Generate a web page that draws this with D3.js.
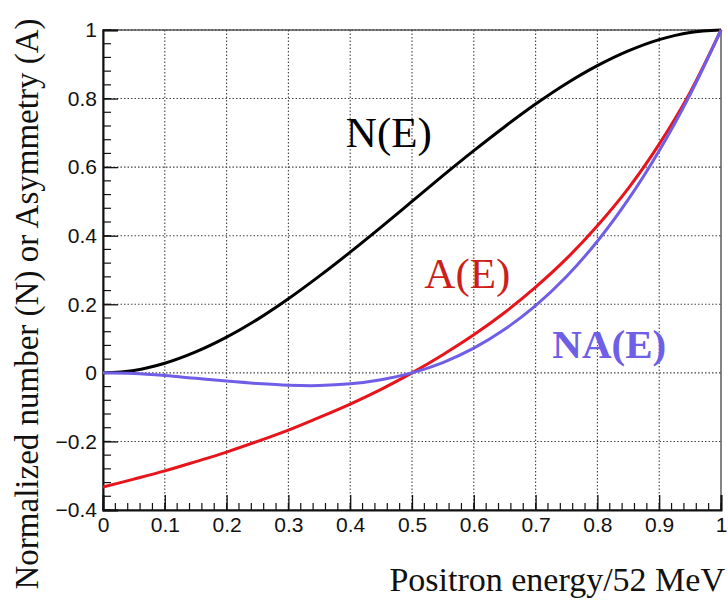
<!DOCTYPE html>
<html>
<head>
<meta charset="utf-8">
<script src="https://cdn.jsdelivr.net/npm/d3@7"></script>
<style>
  html, body { margin: 0; padding: 0; background: #fff; }
  svg { display: block; }
</style>
</head>
<body>
<svg id="chart" width="728" height="603"></svg>
<script>
// Reduced positron energy E (fraction of 52 MeV)
const energy = [0, 0.05, 0.1, 0.15, 0.2, 0.25, 0.3, 0.35, 0.4, 0.45, 0.5,
                0.55, 0.6, 0.65, 0.7, 0.75, 0.8, 0.85, 0.9, 0.95, 1];
// Normalized number N(E)
const numberN = [0, 0.007, 0.028, 0.061, 0.104, 0.156, 0.216, 0.282, 0.352, 0.425, 0.5,
                 0.575, 0.648, 0.718, 0.784, 0.844, 0.896, 0.939, 0.972, 0.993, 1];
// Asymmetry A(E)
const asymA = [-0.333, -0.310, -0.286, -0.259, -0.231, -0.2, -0.167, -0.130, -0.091, -0.048, 0,
               0.053, 0.111, 0.176, 0.25, 0.333, 0.429, 0.538, 0.667, 0.818, 1];
// Product N(E)·A(E)
const productNA = [0, -0.002, -0.008, -0.016, -0.024, -0.031, -0.036, -0.037, -0.032, -0.020, 0,
                   0.030, 0.072, 0.127, 0.196, 0.281, 0.384, 0.506, 0.648, 0.812, 1];

const xTicks = [0, 0.1, 0.2, 0.3, 0.4, 0.5, 0.6, 0.7, 0.8, 0.9, 1];
const yTicks = [-0.4, -0.2, 0, 0.2, 0.4, 0.6, 0.8, 1];

const seriesLabels = ["N(E)", "A(E)", "NA(E)"];

const svg = d3.select("#chart");
const plot = { left: 103, right: 721, top: 30, bottom: 510 };

const x = d3.scaleLinear().domain([0, 1]).range([plot.left, plot.right]);
const y = d3.scaleLinear().domain([-0.4, 1]).range([plot.bottom, plot.top]);

// Dotted grid at every major tick
const grid = svg.append("g").attr("stroke", "#444").attr("stroke-width", 1.1)
  .attr("stroke-dasharray", "1.5,2");
grid.selectAll("line.gx").data(xTicks.slice(1, -1)).join("line")
  .attr("x1", d => x(d)).attr("x2", d => x(d))
  .attr("y1", plot.top).attr("y2", plot.bottom);
grid.selectAll("line.gy").data(yTicks.slice(1)).join("line")
  .attr("x1", plot.left).attr("x2", plot.right)
  .attr("y1", d => y(d)).attr("y2", d => y(d));

// Frame
svg.append("rect")
  .attr("x", plot.left).attr("y", plot.top)
  .attr("width", plot.right - plot.left).attr("height", plot.bottom - plot.top)
  .attr("fill", "none").attr("stroke", "#333").attr("stroke-width", 1.2);

// Axes drawn inward, ROOT style
const tickFont = "'Liberation Sans', Arial, sans-serif";
const xMinor = d3.range(0, 1.0001, 0.02).map(v => +v.toFixed(2));
const yMinor = d3.range(-0.4, 1.0001, 0.04).map(v => +v.toFixed(2));

const xAxis = d3.axisBottom(x).tickValues(xTicks).tickSize(-15)
  .tickFormat(d => d3.format("~g")(d)).tickPadding(7);
const gx = svg.append("g").attr("transform", `translate(0,${plot.bottom})`).call(xAxis);
gx.select(".domain").attr("stroke", "#111").attr("stroke-width", 2);
gx.selectAll(".tick line").attr("stroke", "#111").attr("stroke-width", 1.3);
gx.selectAll(".tick text").attr("font-family", tickFont).attr("font-size", 21).attr("fill", "#111");
svg.append("g").selectAll("line").data(xMinor).join("line")
  .attr("x1", d => x(d)).attr("x2", d => x(d))
  .attr("y1", plot.bottom).attr("y2", plot.bottom - 7)
  .attr("stroke", "#111").attr("stroke-width", 1.2);

const yAxis = d3.axisLeft(y).tickValues(yTicks).tickSize(-15)
  .tickFormat(d => d === 0 ? "0" : d3.format("~g")(d).replace("-", "\u2212")).tickPadding(6);
const gy = svg.append("g").attr("transform", `translate(${plot.left},0)`).call(yAxis);
gy.select(".domain").attr("stroke", "#111").attr("stroke-width", 2);
gy.selectAll(".tick line").attr("stroke", "#111").attr("stroke-width", 1.3);
gy.selectAll(".tick text").attr("font-family", tickFont).attr("font-size", 21).attr("fill", "#111");
svg.append("g").selectAll("line").data(yMinor).join("line")
  .attr("x1", plot.left).attr("x2", plot.left + 8)
  .attr("y1", d => y(d)).attr("y2", d => y(d))
  .attr("stroke", "#111").attr("stroke-width", 1.2);

// Curves
const line = d3.line().x((d, i) => x(energy[i])).y(d => y(d)).curve(d3.curveCatmullRom.alpha(0.5));
const series = [
  { values: numberN, color: "#000000" },
  { values: asymA, color: "#e8141c" },
  { values: productNA, color: "#6f5ee6" }
];
svg.append("g").selectAll("path").data(series).join("path")
  .attr("d", d => line(d.values))
  .attr("fill", "none")
  .attr("stroke", d => d.color)
  .attr("stroke-width", 3)
  .attr("stroke-linejoin", "round");

// Curve labels
const serif = "'Liberation Serif', 'Times New Roman', serif";
const labels = [
  { text: seriesLabels[0], ex: 0.393, ey: 0.66, color: "#000000", weight: "normal", size: 43 },
  { text: seriesLabels[1], ex: 0.52, ey: 0.248, color: "#cc1f1a", weight: "normal", size: 43 },
  { text: seriesLabels[2], ex: 0.727, ey: 0.044, color: "#6f5ee6", weight: "bold", size: 41 }
];
svg.append("g").selectAll("text").data(labels).join("text")
  .attr("x", d => x(d.ex)).attr("y", d => y(d.ey))
  .attr("fill", d => d.color)
  .attr("font-family", serif)
  .attr("font-size", d => d.size)
  .attr("font-weight", d => d.weight)
  .text(d => d.text);

// Axis titles
svg.append("text")
  .attr("x", 725).attr("y", 591)
  .attr("text-anchor", "end")
  .attr("font-family", serif).attr("font-size", 34).attr("fill", "#111")
  .text("Positron energy/52 MeV");

svg.append("text")
  .attr("transform", "translate(38,304) rotate(-90)")
  .attr("text-anchor", "middle")
  .attr("font-family", serif).attr("font-size", 33).attr("fill", "#111")
  .text("Normalized number (N) or Asymmetry (A)");
</script>
</body>
</html>
